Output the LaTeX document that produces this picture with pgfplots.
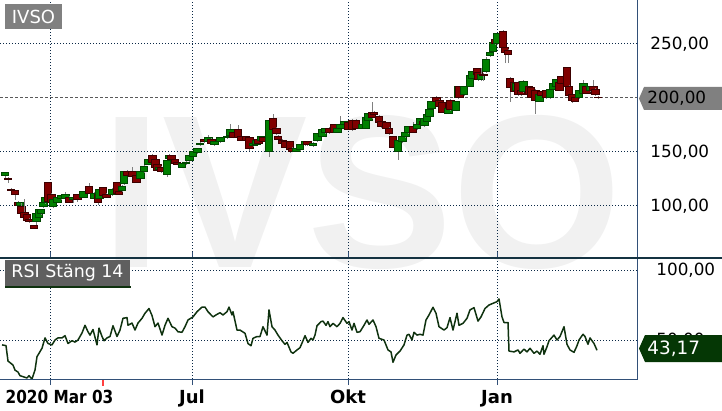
\documentclass[border=0pt]{standalone}
\usepackage{pgfplots}
\usepackage{pgfplotstable}
\pgfplotsset{compat=1.18}
\usepackage{graphicx}
\usepackage{fontspec}
\setmainfont{DejaVu Sans}
\newfontfamily\wmfont{Liberation Sans}
\definecolor{upfill}{RGB}{0,128,0}
\definecolor{upline}{RGB}{0,70,0}
\definecolor{dnfill}{RGB}{128,0,0}
\definecolor{dnline}{RGB}{60,0,0}
\definecolor{wickc}{RGB}{128,128,128}
\definecolor{gridc}{RGB}{10,40,70}
\definecolor{framec}{RGB}{50,80,120}
\definecolor{sepc}{RGB}{20,50,65}
\definecolor{rsic}{RGB}{15,50,15}
\definecolor{wmc}{RGB}{241,241,241}
\definecolor{tagg}{RGB}{128,128,128}
\definecolor{boxg}{RGB}{95,95,95}
\definecolor{tagdk}{RGB}{5,55,5}
\pgfplotsset{
  upc/.style={fill=upfill, draw=upline, line width=0.5pt},
  dnc/.style={fill=dnfill, draw=dnline, line width=0.5pt},
}
\pgfplotstableread{
x o h l c
5 128.7 131.5 125.0 130.6
8 125.9 126.5 121.3 124.1
11 115.7 116.5 112.0 113.9
15 113.9 114.5 105.6 110.2
18 103.7 104.5 99.5 100.0
20 100.9 104.0 100.5 103.7
21.5 99.1 102.8 93.0 93.5
24.5 94.4 106.5 89.5 89.8
27 91.7 92.5 86.5 87.0
29.5 87.9 88.5 84.5 85.2
34 81.5 82.0 79.0 79.6
36.5 85.2 94.0 82.4 93.5
39 89.8 97.5 89.0 97.2
41 92.6 97.5 92.0 97.2
43.5 99.1 103.5 98.5 102.8
45.5 102.8 109.0 102.0 108.3
48 122.2 122.5 104.0 104.6
51.5 111.1 112.0 102.0 102.8
53 99.1 106.0 98.5 105.6
57.5 103.7 109.0 103.0 108.3
61 106.5 110.0 106.0 109.3
65.5 106.5 113.0 106.0 110.2
69 108.3 109.0 103.0 103.7
73 105.6 109.0 103.0 108.3
77.5 110.2 111.0 104.0 105.6
83.5 108.3 113.5 107.5 113.0
89 117.6 121.3 111.5 112.0
94 106.5 112.5 106.0 112.0
98 110.2 111.0 100.9 103.7
99.5 107.4 116.0 106.5 115.7
103 116.7 117.5 108.5 109.3
106.5 111.1 112.0 107.5 108.3
112 110.2 116.5 109.5 115.7
117 121.3 122.0 111.5 112.0
119 113.0 114.0 110.5 111.1
122 113.9 119.0 113.0 118.5
124 120.4 132.0 119.5 131.5
127.5 132.4 133.0 128.0 128.7
132.5 131.5 136.0 126.5 126.9
136.5 128.7 129.5 121.5 122.2
140.5 125.9 132.0 125.0 131.5
144 131.5 137.5 131.0 137.0
148 138.0 143.0 137.5 142.6
152.5 147.2 148.0 140.0 140.7
155.5 142.6 143.5 135.5 136.1
157.5 138.0 139.0 133.0 133.3
159 134.0 136.0 133.5 135.5
161.5 136.1 137.0 131.0 131.5
167 129.6 142.0 126.9 141.7
169 144.4 147.8 143.8 147.2
171.5 146.3 147.0 142.0 142.6
175 142.6 143.5 139.0 139.8
177 140.5 141.0 137.5 138.0
182 136.1 140.5 135.0 139.8
186 138.9 143.5 138.0 140.7
189.5 141.7 147.5 141.0 147.2
193 145.4 150.5 145.0 150.0
197.5 149.1 154.0 148.5 153.7
200 156.5 158.8 156.0 158.3
204.5 162.0 163.0 158.5 159.3
208.5 159.3 166.0 158.5 163.0
211.5 162.0 163.0 157.5 158.3
214.5 156.5 160.0 155.5 159.3
220.5 159.3 163.5 158.5 163.0
227.5 163.0 164.5 162.0 163.9
230.5 165.7 175.9 165.0 170.4
233 167.6 168.5 162.5 163.0
238 170.4 175.0 162.5 163.0
241 163.9 164.5 160.5 161.1
246 163.9 164.5 159.5 160.2
249.5 163.0 163.5 151.0 153.7
253.5 155.6 158.5 155.0 158.3
256.5 157.4 161.5 157.0 161.1
258.5 162.0 162.5 158.0 158.3
261.5 160.2 164.5 159.5 163.9
263 163.0 163.5 159.0 159.3
269 150.0 180.0 145.4 179.6
273 180.6 185.2 170.0 170.4
276.5 172.2 173.0 166.0 166.7
278 164.8 165.5 161.5 162.0
282.5 161.1 162.0 157.5 158.3
285.5 159.3 160.0 154.0 154.6
290 159.3 160.0 149.1 151.9
292 153.7 154.5 150.0 150.9
296.5 150.9 153.5 150.0 152.8
300 151.9 157.0 151.0 156.5
305 156.5 160.0 156.0 159.3
307.5 159.3 160.0 156.0 156.5
313 155.6 158.8 155.0 158.3
317.5 160.2 167.0 159.5 166.7
322.5 164.8 171.0 164.0 170.4
325 167.6 171.5 167.0 171.3
329.5 172.2 173.0 167.0 167.6
334.5 175.0 176.0 168.0 168.5
337.5 168.5 172.5 168.0 172.2
340.5 172.2 183.3 171.5 175.0
344 175.0 178.5 174.5 177.8
348.5 176.9 177.5 170.0 170.4
352 179.6 180.5 169.5 170.4
356 179.6 180.5 171.5 172.2
362.5 172.2 176.5 171.5 175.9
366 172.2 183.0 171.5 182.4
368.5 179.6 186.5 179.0 186.1
372 187.0 196.3 181.0 181.5
374 187.0 188.0 184.0 184.3
379 183.3 184.0 176.5 176.9
381.5 177.8 178.5 172.5 173.2
386.5 176.9 177.5 171.5 172.2
389 172.2 173.0 166.0 166.7
393 163.9 164.5 154.0 154.6
398 150.0 160.5 142.6 160.2
402.5 159.3 164.5 158.5 163.9
405.5 163.9 169.0 163.0 168.5
408 167.6 173.5 167.0 173.2
413 173.2 177.5 168.0 168.5
417 171.3 176.5 170.5 175.9
420 175.0 181.0 174.5 180.6
423 178.7 179.5 174.5 175.0
424.5 174.1 181.0 173.5 180.6
427 178.7 185.0 178.0 184.3
429.5 183.3 190.5 182.5 189.8
431.5 190.7 197.0 190.0 196.3
436.5 200.0 201.5 196.5 197.2
439.5 198.1 199.0 191.0 191.7
442 195.4 196.0 186.0 187.0
448.5 186.1 191.5 185.0 190.7
450.5 198.1 199.0 188.0 188.9
456 188.0 197.0 187.5 196.3
458 200.0 211.0 199.5 210.2
459.5 210.2 211.0 200.5 200.9
464 202.8 211.0 202.0 210.2
470 211.1 221.0 210.5 220.4
472 218.5 224.5 218.0 224.1
477 226.9 228.0 221.5 222.2
478.5 223.2 224.0 216.0 216.7
481 216.7 228.0 216.0 222.2
483.5 222.2 223.0 216.0 220.4
486 224.1 238.0 223.5 236.1
490 238.9 242.5 238.0 241.7
493 243.5 251.5 242.5 251.0
495 253.7 258.3 249.5 250.0
497 250.0 259.8 249.5 259.3
503 262.0 262.5 245.5 246.3
505 246.3 247.0 232.4 241.7
508 244.4 245.0 232.4 240.7
510 218.5 219.0 196.3 209.3
514 213.9 214.5 205.0 205.6
516 206.5 213.5 206.0 213.0
518.5 214.8 215.5 202.0 202.8
521 206.5 207.0 202.0 202.8
523.5 205.6 216.5 205.0 215.7
529 210.2 211.0 202.0 202.8
531 209.3 210.0 200.0 200.9
535.5 207.4 208.0 185.2 198.1
539.5 197.2 203.5 196.5 202.8
541.5 205.6 206.0 201.5 201.9
546.5 207.4 208.0 199.5 200.0
550 200.0 209.0 199.5 208.3
553 208.3 213.5 207.5 213.0
556 210.2 217.5 209.5 216.7
559.5 214.8 215.5 206.5 207.4
561 219.5 220.5 212.5 213.0
567 227.8 228.5 209.5 210.2
569 211.1 212.0 201.0 201.9
572.5 202.8 203.5 195.4 198.1
575 200.9 201.5 196.5 197.2
579 200.0 207.0 199.0 206.5
583.5 204.6 216.7 204.0 213.0
586.5 210.2 211.0 204.0 204.6
590 206.5 210.5 206.0 210.2
593.5 210.2 216.7 206.0 206.5
595.5 208.3 209.0 202.0 202.8
598 200.9 201.5 199.0 200.0
}\candles
\pgfplotstableread{
x v
2 47
6 46.5
8 35.5
13 32.6
15 29
18 27.6
20 25
23 24.3
27 23.4
29 25
32 22.6
35 29
37 38.6
42 44.6
45 52
48 48
52 47
55 50.5
58 52
62 52
65 53.6
68 48
72 50
75 49
78 50.5
82 55.5
85 61
88 56.4
90 54
93 58
97 47
99 59
102 53
104 50
107 52
110 53
113 60.7
117 53
120 57.6
123 66
127 66.5
128 61
132 62.6
135 57.6
138 62.6
142 66
145 69.6
149 73
152 68
155 60
158 62.6
162 54
165 61
168 66
172 60
175 59
178 56.4
182 56
185 60
188 64.8
193 67
197 70.7
202 74
205 74
208 70.7
213 67
216 68.4
220 70
223 68.4
227 70.7
229 74
232 68.4
233 70.7
237 57.6
240 57.6
245 55.3
248 48
251 46.4
253 51.7
257 53
260 53
263 60
267 54
269 72
272 60
275 57.6
278 54
282 50
285 47.4
287 48.8
291 42
293 41
297 43.4
300 45
303 50
305 53.6
308 48.8
311 51.7
313 50.5
315 54
317 60.7
321 63.6
323 64
326 61
328 63.6
330 60
333 62.4
337 60
340 62.4
343 66.5
347 62.4
349 63.6
352 57.6
354 62.4
357 56
360 56.4
364 61
367 64.8
369 61.7
373 64.8
376 60
379 51.7
384 50.5
388 43.4
391 42
393 34.6
396 39.8
400 42.6
404 47
407 54
409 54.6
412 50.5
414 56
417 54
420 54.6
423 54
426 64.8
429 68.4
433 73.9
436 69.6
439 60
444 57.6
447 59.3
450 66.5
453 57.6
457 69.6
459 61
463 62.4
467 66
470 72
474 73.6
478 64
481 67
485 73
489 75.5
494 77
497 77.9
499 79.8
502 67
504 63
508 63
509 42.6
514 42
518 43.4
520 41
524 44
527 42
530 44.6
534 41
537 42.6
540 40.3
543 46.4
544 40.3
547 45.7
549 50
554 54
557 50.5
560 53
564 60
567 47.4
570 43.4
574 41.7
577 46.4
579 50.5
583 54.6
585 53
588 47.4
590 52
594 48
597 43.17
}\rsi
\begin{document}
\begin{tikzpicture}[x=0.5pt,y=-0.5pt]
\node[anchor=base west, inner sep=0pt, text=wmc, font=\wmfont\bfseries\fontsize{109}{109}\selectfont] at (101,267) {IVSO};
\begin{axis}[
  at={(0pt,0pt)}, anchor=north west,
  x=0.5pt, y=0.54pt,
  xmin=0, xmax=637, ymin=51.85, ymax=290.74,
  axis line style={draw=none},
  xtick={50,192,348,497}, xticklabels={},
  xmajorgrids, ymajorgrids,
  major grid style={gridc, line width=0.5pt, dash pattern=on 0.5pt off 1pt},
  ytick={100,150,250}, yticklabels={{100,00},{150,00},{250,00}},
  yticklabel pos=right,
  yticklabel style={anchor=west, inner sep=0pt, xshift=6.5pt, font=\fontsize{8.4}{10}\selectfont},
  major tick length=0pt,
  extra y ticks={200}, extra y tick labels={},
  extra y tick style={major grid style={black!65, line width=0.5pt, dash pattern=on 1.5pt off 1pt}},
]
\pgfplotstablegetrowsof{\candles}
\pgfmathtruncatemacro{\lastrow}{\pgfplotsretval-1}
\pgfplotsinvokeforeach{0,...,\lastrow}{%
  \pgfplotstablegetelem{#1}{x}\of{\candles}\let\cx=\pgfplotsretval
  \pgfplotstablegetelem{#1}{o}\of{\candles}\let\co=\pgfplotsretval
  \pgfplotstablegetelem{#1}{h}\of{\candles}\let\ch=\pgfplotsretval
  \pgfplotstablegetelem{#1}{l}\of{\candles}\let\cl=\pgfplotsretval
  \pgfplotstablegetelem{#1}{c}\of{\candles}\let\cc=\pgfplotsretval
  \pgfmathsetmacro{\xl}{\cx-3.7}%
  \pgfmathsetmacro{\xr}{\cx+3.7}%
  \ifdim\cc pt>\co pt \def\cstyle{upc}\else\def\cstyle{dnc}\fi
  \edef\temp{%
    \noexpand\addplot[wickc, line width=0.5pt, forget plot] coordinates {(\cx,\cl) (\cx,\ch)};
    \noexpand\addplot[\cstyle, forget plot] coordinates {(\xl,\co) (\xr,\co) (\xr,\cc) (\xl,\cc)} --cycle;
  }\temp
}
\end{axis}
\begin{axis}[
  at={(0pt,-129pt)}, anchor=north west,
  x=0.5pt, y=0.7pt,
  xmin=0, xmax=637, ymin=22.64, ymax=109.07,
  axis line style={draw=none},
  xtick={50,192,348,497},
  xticklabels={{\hspace*{9.5pt}\scalebox{0.85}[1]{2020 Mar 03}},Jul,Okt,Jan},
  xticklabel style={font=\bfseries\fontsize{9}{10}\selectfont, anchor=base, inner sep=0pt, yshift=-9pt},
  xmajorgrids, ymajorgrids,
  major grid style={gridc, line width=0.5pt, dash pattern=on 0.5pt off 1pt},
  ytick={50,100}, yticklabels={{50,00},{100,00}},
  yticklabel pos=right,
  yticklabel style={anchor=west, inner sep=0pt, xshift=6.5pt, font=\fontsize{8.4}{10}\selectfont},
  tick align=outside, major tick length=3pt,
  xtick style={draw=framec, line width=0.5pt},
  ytick style={draw=none},
]
\addplot[rsic, line width=0.75pt, line join=round] table[x=x, y=v] {\rsi};
\end{axis}
% frame
\draw[framec, line width=0.5pt] (637,0) -- (637,379.5) -- (0,379.5);
\draw[sepc, line width=1pt] (0,258) -- (722,258);
\draw[red!75, line width=1pt] (102.5,380) -- (102.5,386);
% tags
\fill[tagg] (639,98.5) -- (644,87) -- (722,87) -- (722,110) -- (644,110) -- cycle;
\node[anchor=west, inner sep=0pt, font=\fontsize{8.4}{10}\selectfont] at (647,98.5) {200,00};
\fill[tagdk] (639,348.5) -- (645,335) -- (722,335) -- (722,362) -- (645,362) -- cycle;
\node[anchor=west, inner sep=0pt, text=white, font=\fontsize{9.2}{10}\selectfont] at (647,348.5) {43,17};
\fill[tagg] (5,4) rectangle (62,29);
\node[text=white, inner sep=0pt, font=\fontsize{9}{10}\selectfont] at (33.5,16.5) {IVSO};
\fill[boxg] (5,260) rectangle (130,286);
\draw[rsic, line width=1pt] (5,286.5) -- (131,286.5);
\node[text=white, inner sep=0pt, font=\fontsize{8.7}{10}\selectfont] at (67.5,273) {RSI Stäng 14};
\pgfresetboundingbox
\path (0,0) rectangle (722,411);
\end{tikzpicture}
\end{document}
